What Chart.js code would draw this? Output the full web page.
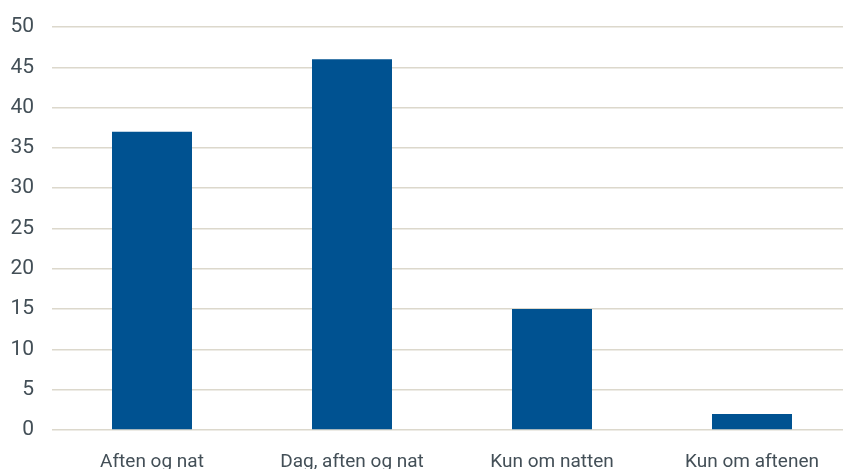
<!DOCTYPE html>
<html>
<head>
<meta charset="utf-8">
<script src="https://cdn.jsdelivr.net/npm/chart.js@4"></script>
<style>
    html, body { margin: 0; padding: 0; overflow: hidden; background: #fff; }
    #wrap { width: 843px; height: 469px; overflow: hidden; }
</style>
</head>
<body>
<div id="wrap"><canvas id="chart" width="852" height="472"></canvas></div>
<script>
// Kategorier og værdier
const categories = ['Aften og nat', 'Dag, aften og nat', 'Kun om natten', 'Kun om aftenen'];
const values = [37, 46, 15, 2];
const yMin = 0;
const yMax = 50;
const yStep = 5;

const textColor = '#434f57';
const gridColor = '#dcd8cc';
const barColor = '#005291';

const ctx = document.getElementById('chart').getContext('2d');

new Chart(ctx, {
    type: 'bar',
    data: {
        labels: categories,
        datasets: [{
            data: values,
            backgroundColor: barColor,
            borderWidth: 0,
            categoryPercentage: 0.8,
            barPercentage: 0.5
        }]
    },
    options: {
        responsive: false,
        animation: false,
        devicePixelRatio: 1,
        plugins: {
            legend: { display: false },
            tooltip: { enabled: false }
        },
        layout: {
            padding: { top: 27, left: 10, right: 0, bottom: 0 }
        },
        scales: {
            x: {
                grid: { display: false, drawTicks: false },
                border: { display: false },
                afterFit: (scale) => { scale.height = 42; },
                ticks: {
                    color: textColor,
                    padding: 21,
                    maxRotation: 0,
                    font: { family: 'Roboto', size: 19 }
                }
            },
            y: {
                min: yMin,
                max: yMax,
                grid: { color: gridColor, lineWidth: 1.5, drawTicks: false },
                border: { display: false },
                afterFit: (scale) => {
                    scale.width = 42;
                    scale.paddingTop = 0;
                    scale.paddingBottom = 0;
                },
                ticks: {
                    stepSize: yStep,
                    color: textColor,
                    padding: 18,
                    font: { family: 'Roboto', size: 21 }
                }
            }
        }
    }
});
</script>
</body>
</html>
